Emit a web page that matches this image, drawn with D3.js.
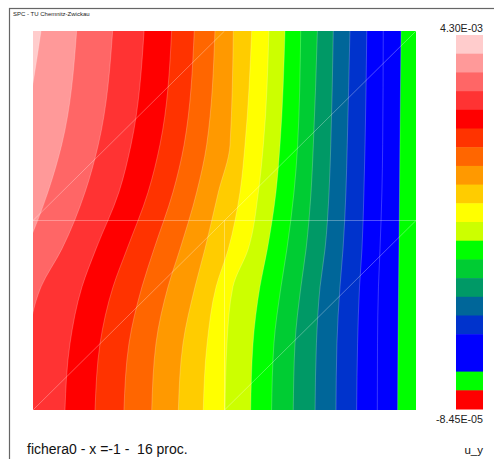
<!DOCTYPE html>
<html><head><meta charset="utf-8">
<script src="https://cdn.jsdelivr.net/npm/d3@7"></script>
<style>
html,body{margin:0;padding:0;background:#fff;}
svg{display:block;font-family:"Liberation Sans",Arial,sans-serif;}
</style></head>
<body>
<svg id="chart" width="494" height="459"></svg>
<script>
// ---- data ----
// colour levels, legend order from max (top) to min (bottom)
const levelColors = ["#ffcccc","#ff9999","#ff6666","#ff3333","#ff0000","#ff3300","#ff6600","#ff9900",
  "#ffcc00","#ffff00","#ccff00","#00ff00","#00cc33","#009966","#006699","#0033cc",
  "#0000ff","#0000ff","#00ff00","#ff0000"];
const legendLabels = ["4.30E-03","-8.45E-05"];
// z positions (vertical coordinate, top = 1) at which iso-line positions were read
const zRows = [1, 0.4, 0.15, -0.15, -0.35, -0.65, -1];
// horizontal coordinate of each iso-line between consecutive levels, at zRows
const isoLines = [
  [-0.958,-1.057,-1.110,-1.172,-1.214,-1.251,-1.277],
  [-0.772,-0.850,-0.922,-1.037,-1.131,-1.193,-1.225],
  [-0.584,-0.659,-0.728,-0.849,-0.958,-1.026,-1.047],
  [-0.420,-0.488,-0.551,-0.671,-0.744,-0.807,-0.833],
  [-0.276,-0.337,-0.399,-0.509,-0.582,-0.650,-0.676],
  [-0.158,-0.211,-0.269,-0.368,-0.431,-0.499,-0.525],
  [-0.050,-0.093,-0.145,-0.232,-0.295,-0.358,-0.380],
  [ 0.046, 0.029,-0.032,-0.102,-0.154,-0.217,-0.241],
  [ 0.142, 0.107, 0.081, 0.020,-0.044,-0.091,-0.111],
  [ 0.232, 0.203, 0.177, 0.124, 0.044, 0.013, 0.003],
  [ 0.316, 0.290, 0.269, 0.224, 0.185, 0.149, 0.137],
  [ 0.398, 0.382, 0.363, 0.326, 0.295, 0.258, 0.246],
  [ 0.485, 0.464, 0.452, 0.426, 0.399, 0.368, 0.359],
  [ 0.568, 0.555, 0.546, 0.525, 0.499, 0.480, 0.473],
  [ 0.655, 0.641, 0.634, 0.619, 0.603, 0.587, 0.582],
  [ 0.743, 0.734, 0.728, 0.718, 0.705, 0.695, 0.690],
  [ 0.829, 0.826, 0.822, 0.812, 0.804, 0.799, 0.798],
  [ 0.922, 0.916, 0.914, 0.911, 0.909, 0.906, 0.904]
];
// mesh edges (element outlines) in domain coordinates
const meshEdges = [
  [[-1,0],[1,0]], [[0,-1],[0,0]], [[-1,-1],[1,1]], [[-1,0],[0,1]], [[0,-1],[1,0]]
];
const headerText = "SPC - TU Chemnitz-Zwickau";
const footerText = "fichera0 - x =-1 -  16 proc.";
const fieldName = "u_y";

// ---- drawing ----
const svg = d3.select("#chart");
const x = d3.scaleLinear().domain([-1,1]).range([33,416]);
const y = d3.scaleLinear().domain([-1,1]).range([410,31]);

// frame
svg.append("rect").attr("x",9.5).attr("y",8.5).attr("width",600).attr("height",600)
  .attr("fill","none").attr("stroke","#666").attr("stroke-width",1.2);
svg.append("text").attr("x",13).attr("y",16).attr("font-size",6).attr("fill","#222").text(headerText);

const defs = svg.append("defs");
defs.append("clipPath").attr("id","plotclip").append("rect")
  .attr("x",x(-1)).attr("y",y(1)).attr("width",x(1)-x(-1)).attr("height",y(-1)-y(1));

const g = svg.append("g").attr("clip-path","url(#plotclip)");
g.append("rect").attr("x",x(-1)).attr("y",y(1)).attr("width",x(1)-x(-1)).attr("height",y(-1)-y(1))
  .attr("fill",levelColors[0]);

const area = d3.area()
  .y(d => y(d[0])).x0(d => x(d[1])).x1(x(1.05))
  .curve(d3.curveMonotoneY);
const edge = d3.line().y(d => y(d[0])).x(d => x(d[1])).curve(d3.curveMonotoneY);

isoLines.forEach((line, i) => {
  const pts = zRows.map((z, j) => [z, line[j]]);
  g.append("path").attr("d", area(pts)).attr("fill", levelColors[i+1]);
  g.append("path").attr("d", edge(pts)).attr("fill","none")
    .attr("stroke","#fff").attr("stroke-opacity",0.28).attr("stroke-width",0.8);
});

const meshLine = d3.line().x(d => x(d[0])).y(d => y(d[1]));
g.selectAll(".mesh").data(meshEdges).join("path").attr("class","mesh")
  .attr("d", meshLine).attr("fill","none").attr("stroke","#fff")
  .attr("stroke-opacity",0.35).attr("stroke-width",0.9);

// legend
const ly = d3.scaleBand().domain(d3.range(levelColors.length)).range([35,409]);
svg.append("g").selectAll("rect").data(levelColors).join("rect")
  .attr("x",456).attr("width",27)
  .attr("y",(d,i)=>ly(i)).attr("height",ly.bandwidth()+0.5)
  .attr("fill",d=>d);
svg.append("text").attr("x",483).attr("y",32).attr("text-anchor","end")
  .attr("font-size",10.6).attr("fill","#222").text(legendLabels[0]);
svg.append("text").attr("x",483).attr("y",423).attr("text-anchor","end")
  .attr("font-size",10.7).attr("fill","#222").text(legendLabels[1]);

svg.append("text").attr("x",27).attr("y",454).attr("font-size",14).attr("fill","#111")
  .style("white-space","pre").text(footerText);
svg.append("text").attr("x",483).attr("y",454).attr("text-anchor","end").attr("font-size",11.5)
  .attr("fill","#111").text(fieldName);
</script>
</body></html>
